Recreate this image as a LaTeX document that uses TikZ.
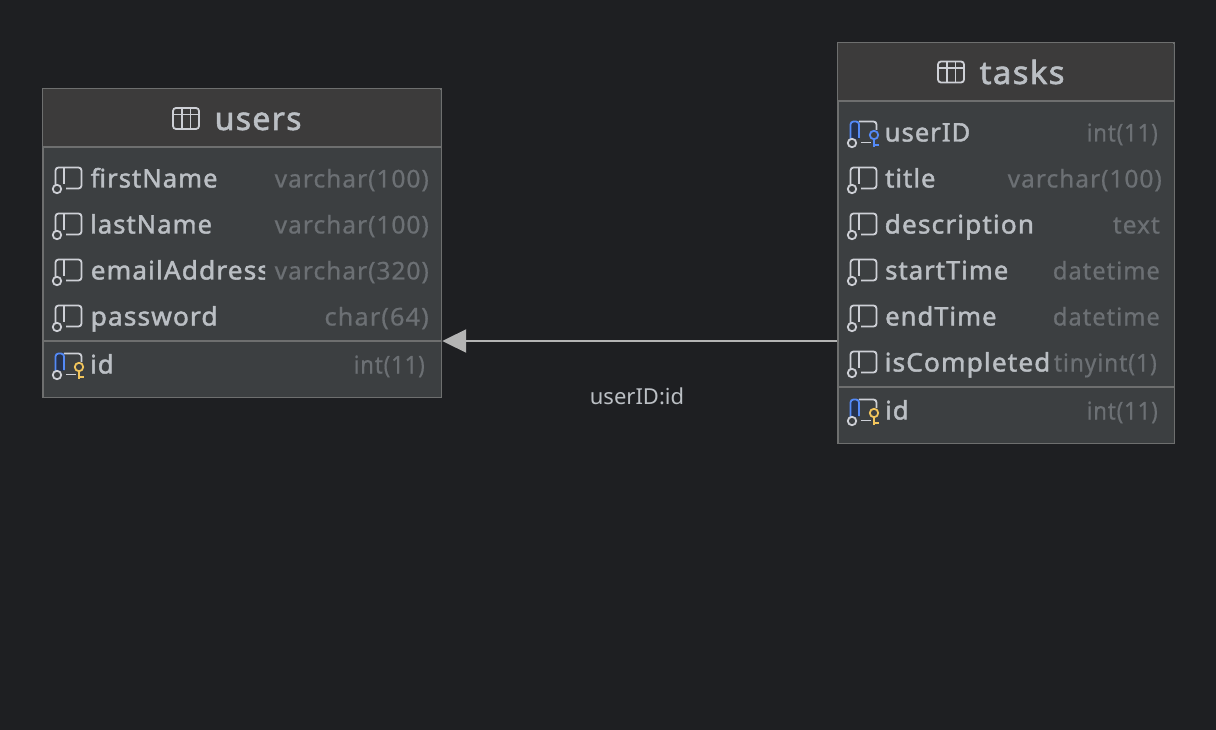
\documentclass[tikz,border=0pt]{standalone}
\usepackage{graphicx}
\usepackage{fontspec}
\setmainfont{Noto Sans}
\newfontfamily\namefont[LetterSpace=4,FakeBold=1.6]{Noto Sans}
\newfontfamily\typefont[LetterSpace=4,FakeBold=0.6]{Noto Sans}
\newfontfamily\medfont[LetterSpace=4,FakeBold=1.8]{Noto Sans}
\usetikzlibrary{arrows.meta}
\definecolor{bgc}{HTML}{1E1F22}
\definecolor{headc}{HTML}{3C3B3B}
\definecolor{bodyc}{HTML}{3C3F41}
\definecolor{edgec}{HTML}{6E6F6F}
\definecolor{namec}{HTML}{BBBFC4}
\definecolor{typec}{HTML}{6C7074}
\definecolor{iconc}{HTML}{CED0D6}
\definecolor{pkblue}{HTML}{548AF7}
\definecolor{pkfill}{HTML}{25324D}
\definecolor{goldc}{HTML}{F2C55C}
\definecolor{linec}{HTML}{B4B4B4}
\tikzset{
  x=1pt,y=-1pt,
  tablebox/.style={draw=edgec,line width=1.4pt,fill=bodyc,inner sep=0pt,anchor=north west},
  sepline/.style={draw=edgec,line width=1.8pt},
  rowname/.style={anchor=base west,inner sep=0pt,text=namec,font=\namefont\fontsize{25.6}{30}\selectfont},
  rowtype/.style={anchor=base east,inner sep=0pt,text=typec,font=\typefont\fontsize{24.5}{28}\selectfont},
  titletext/.style={anchor=base west,inner sep=0pt,text=namec,font=\medfont\fontsize{32}{36}\selectfont},
  edgelabel/.style={anchor=base,inner sep=0pt,text=namec,font=\fontsize{22}{26}\selectfont},
  iconline/.style={draw=iconc,line width=1.8pt},
  rel/.style={draw=linec,line width=2pt,-{Triangle[length=24pt,width=23pt,fill=linec]}}
}
% icons: #1 = left x, #2 = row centre y
\newcommand{\colicon}[2]{%
  \draw[iconline,rounded corners=3pt] (#1+2.5,#2+6) -- (#1+2.5,#2-11.5) -- (#1+28.5,#2-11.5) -- (#1+28.5,#2+9.5) -- (#1+13,#2+9.5);
  \draw[iconline] (#1+11,#2-11.5) -- (#1+11,#2+5);
  \draw[iconline,fill=bodyc] (#1+4,#2+10) circle (4.2);
}
\newcommand{\keyicon}[3]{% left x, row y, key colour
  \draw[iconline,rounded corners=3pt] (#1+11,#2-11.5) -- (#1+28.5,#2-11.5) -- (#1+28.5,#2-3);
  \draw[iconline] (#1+13,#2+9.5) -- (#1+23,#2+9.5);
  \fill[pkfill] (#1+2.5,#2-11) rectangle (#1+11,#2+6);
  \draw[draw=pkblue,line width=1.8pt,rounded corners=3pt] (#1+2.5,#2+6) -- (#1+2.5,#2-11.5) -- (#1+11,#2-11.5) -- (#1+11,#2+5);
  \draw[iconline,fill=bodyc] (#1+4,#2+10) circle (4.2);
  \draw[draw=#3,line width=1.8pt] (#1+26,#2+2) circle (4.2);
  \draw[draw=#3,line width=1.8pt] (#1+26,#2+6) -- (#1+26,#2+14) (#1+26,#2+12) -- (#1+31,#2+12);
}
\newcommand{\tableicon}[2]{% left x, top y
  \draw[draw=iconc,line width=1.8pt,rounded corners=3pt] (#1,#2) rectangle (#1+26,#2+21);
  \draw[draw=iconc,line width=1.6pt] (#1,#2+6.5) -- (#1+26,#2+6.5) (#1+9,#2) -- (#1+9,#2+21) (#1+17.5,#2) -- (#1+17.5,#2+21);
}
\newcommand{\namecell}[6][1]{% [x scale], node name, x, row y, clip x, text
  \begin{scope}
    \clip (#3-2,#4-20) rectangle (#5,#4+20);
    \node[rowname] (#2) at (#3,#4+8.5) {\scalebox{#1}[1]{#6}};
  \end{scope}
}
\newcommand{\typecell}[5][1]{% [x scale], node name, right x, row y, text
  \node[rowtype] (#2) at (#3,#4+8.5) {\scalebox{#1}[1]{#5}};
}
\begin{document}
\begin{tikzpicture}
\useasboundingbox (0,0) rectangle (1216,730);
\fill[bgc] (0,0) rectangle (1216,730);

% users table
\node[tablebox,minimum width=398.6pt,minimum height=308.6pt] (users) at (42.2,88.2) {};
\fill[headc] (43.4,89.4) rectangle (440,147);
\draw[sepline] (users.west |- 0,147) -- (users.east |- 0,147);
\draw[sepline] (users.west |- 0,341) -- (users.east |- 0,341);
\tableicon{173}{108}
\node[titletext] (usersTitle) at (214.5,130) {users};
\colicon{53}{179}
\namecell{u1}{90.5}{179}{265}{firstName}
\typecell{ut1}{429}{179}{varchar(100)}
\colicon{53}{225}
\namecell{u2}{90}{225}{265}{lastName}
\typecell{ut2}{429}{225}{varchar(100)}
\colicon{53}{271}
\namecell[1.03]{u3}{90.5}{271}{265}{emailAddress}
\typecell{ut3}{429}{271}{varchar(320)}
\colicon{53}{317}
\namecell[1.03]{u4}{90.5}{317}{265}{password}
\typecell[1.04]{ut4}{429}{317}{char(64)}
\keyicon{53}{365}{goldc}
\namecell{u5}{90}{365}{265}{id}
\typecell[0.9]{ut5}{425}{365}{int(11)}

% tasks table
\node[tablebox,minimum width=336.6pt,minimum height=400.6pt] (tasks) at (837.2,42.2) {};
\fill[headc] (838.4,43.4) rectangle (1173,101);
\draw[sepline] (tasks.west |- 0,101) -- (tasks.east |- 0,101);
\draw[sepline] (tasks.west |- 0,387) -- (tasks.east |- 0,387);
\tableicon{938}{61.5}
\node[titletext] (tasksTitle) at (979.5,84) {\scalebox{1.03}[1]{tasks}};
\keyicon{848}{133}{pkblue}
\namecell{t1}{884.5}{133}{1050}{userID}
\typecell[0.9]{tt1}{1158}{133}{int(11)}
\colicon{848}{179}
\namecell{t2}{885}{179}{1050}{title}
\typecell{tt2}{1162}{179}{varchar(100)}
\colicon{848}{225}
\namecell[1.03]{t3}{884.5}{225}{1032}{description}
\typecell{tt3}{1160}{225}{text}
\colicon{848}{271}
\namecell{t4}{885}{271}{1050}{startTime}
\typecell[0.97]{tt4}{1160}{271}{datetime}
\colicon{848}{317}
\namecell{t5}{885}{317}{1050}{endTime}
\typecell[0.97]{tt5}{1160}{317}{datetime}
\colicon{848}{363}
\namecell[1.03]{t6}{884.5}{363}{1048}{isCompleted}
\typecell[0.93]{tt6}{1157}{363}{tinyint(1)}
\keyicon{848}{411}{goldc}
\namecell{t7}{885}{411}{1050}{id}
\typecell[0.9]{tt7}{1158}{411}{int(11)}

% relation
\draw[rel] (tasks.west |- 0,341) -- (users.east |- 0,341);
\node[edgelabel] (relLabel) at (637,404.5) {userID:id};
\end{tikzpicture}
\end{document}
